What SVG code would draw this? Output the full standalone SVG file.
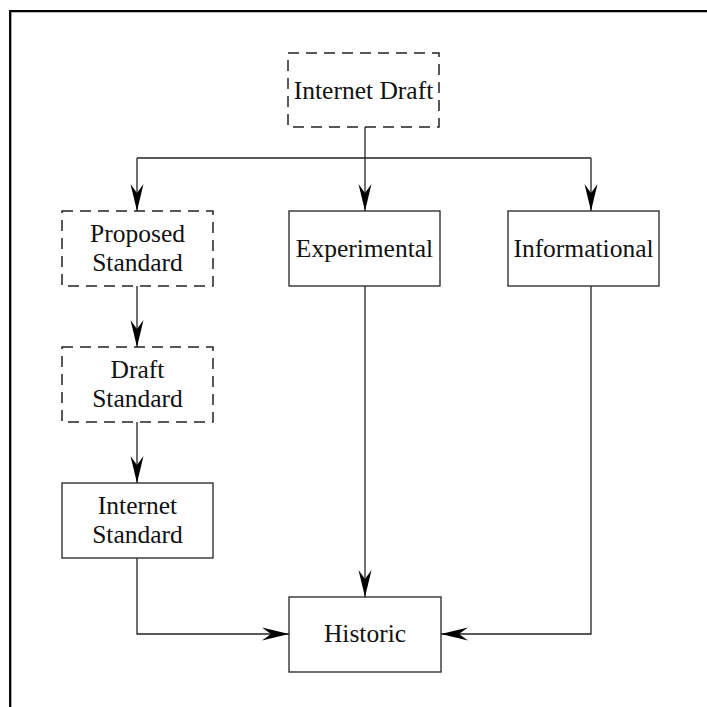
<svg xmlns="http://www.w3.org/2000/svg" width="707" height="707" viewBox="0 0 707 707">
<style>
.box{fill:#fff;stroke:#222;stroke-width:1.3}
.dash{stroke-dasharray:11,7;stroke-width:1.5}
.lbl{font-family:"Liberation Serif","Times New Roman",serif;font-size:25.5px;fill:#111;text-anchor:middle}
.wire{fill:none;stroke:#222;stroke-width:1.3}
</style>
<defs>
<marker id="ah" markerUnits="userSpaceOnUse" markerWidth="30" markerHeight="16" viewBox="-28 -8 30 16" refX="0" refY="0" orient="auto">
<path d="M0,0 L-27,-6.5 L-18,0 L-27,6.5 Z" fill="#000"/>
</marker>
</defs>
<rect width="707" height="707" fill="#fff"/>
<path d="M10.2,707 V11.2 H707" fill="none" stroke="#000" stroke-width="2.3"/>
<g id="connectors">
<path class="wire" d="M365,127 V158"/>
<path class="wire" d="M137,158 H591"/>
<path class="wire" d="M137,158 V211" marker-end="url(#ah)"/>
<path class="wire" d="M365,158 V211" marker-end="url(#ah)"/>
<path class="wire" d="M591,158 V211" marker-end="url(#ah)"/>
<path class="wire" d="M137,286 V347" marker-end="url(#ah)"/>
<path class="wire" d="M137,422 V483" marker-end="url(#ah)"/>
<path class="wire" d="M365,286 V597" marker-end="url(#ah)"/>
<path class="wire" d="M137,558 V634 H289" marker-end="url(#ah)"/>
<path class="wire" d="M591,286 V634 H441" marker-end="url(#ah)"/>
</g>
<g id="internet-draft">
<rect class="box dash" x="288" y="53" width="151" height="74"/>
<text class="lbl" x="363.5" y="99">Internet Draft</text>
</g>
<g id="proposed-standard">
<rect class="box dash" x="62" y="211" width="151" height="75"/>
<text class="lbl" x="137.5" y="242">Proposed</text>
<text class="lbl" x="137.5" y="271">Standard</text>
</g>
<g id="experimental">
<rect class="box" x="289" y="211" width="151" height="75"/>
<text class="lbl" x="364.5" y="257">Experimental</text>
</g>
<g id="informational">
<rect class="box" x="508" y="211" width="151" height="75"/>
<text class="lbl" x="583.5" y="257">Informational</text>
</g>
<g id="draft-standard">
<rect class="box dash" x="62" y="347" width="151" height="75"/>
<text class="lbl" x="137.5" y="378">Draft</text>
<text class="lbl" x="137.5" y="407">Standard</text>
</g>
<g id="internet-standard">
<rect class="box" x="62" y="483" width="151" height="75"/>
<text class="lbl" x="137.5" y="514">Internet</text>
<text class="lbl" x="137.5" y="543">Standard</text>
</g>
<g id="historic">
<rect class="box" x="289" y="597" width="152" height="75"/>
<text class="lbl" x="365" y="642">Historic</text>
</g>
</svg>
